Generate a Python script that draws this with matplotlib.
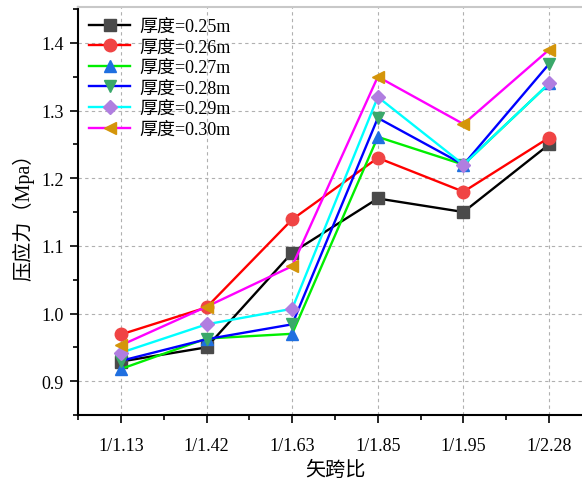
import numpy as np
import matplotlib
matplotlib.use('Agg')
from matplotlib import pyplot as plt
from matplotlib.ticker import MultipleLocator

plt.rcParams['font.family'] = ['Liberation Serif', 'Noto Sans CJK SC', 'DejaVu Sans']

# categories (矢跨比)
categories = ['1/1.13', '1/1.42', '1/1.63', '1/1.85', '1/1.95', '1/2.28']
thickness = ['0.25', '0.26', '0.27', '0.28', '0.29', '0.30']

# 压应力 values per thickness
s025 = [0.929, 0.950, 1.090, 1.170, 1.150, 1.250]
s026 = [0.969, 1.009, 1.139, 1.230, 1.180, 1.260]
s027 = [0.918, 0.963, 0.970, 1.261, 1.220, 1.340]
s028 = [0.930, 0.962, 0.984, 1.289, 1.220, 1.369]
s029 = [0.942, 0.984, 1.007, 1.320, 1.220, 1.340]
s030 = [0.953, 1.010, 1.070, 1.350, 1.280, 1.390]
series = [s025, s026, s027, s028, s029, s030]

line_colors = ['black', '#ff0000', '#00ee00', '#0000ff', '#00ffff', '#ff00ff']
marker_colors = ['#4a4a4a', '#f04444', '#1f6fe0', '#3aa86a', '#b07ee0', '#d4950a']
markers = ['s', 'o', '^', 'v', 'D', '<']
msizes = [8, 9, 9, 9, 7, 9]

fig = plt.figure(figsize=(5.82, 4.81), dpi=100)
ax = fig.add_axes([78/582, 1-416/481, 514/582, 408/481])

x = np.arange(len(categories))
for i, ys in enumerate(series):
    ax.plot(x, ys, color=line_colors[i], lw=1.7, marker=markers[i],
            markersize=msizes[i], markerfacecolor=marker_colors[i],
            markeredgecolor=marker_colors[i], label='厚度=' + thickness[i] + 'm')

ax.set_xlim(-0.5, 5.5)
ax.set_ylim(0.85, 1.453)
ax.set_xticks(x)
ax.set_xticklabels(categories)
ax.xaxis.set_minor_locator(MultipleLocator(0.5))
ax.yaxis.set_major_locator(MultipleLocator(0.1))
ax.yaxis.set_minor_locator(MultipleLocator(0.05))
ax.yaxis.set_major_formatter(matplotlib.ticker.FormatStrFormatter('%.1f'))
ax.tick_params(which='major', direction='out', length=6, width=1.2, labelsize=13, pad=4)
ax.tick_params(which='minor', direction='out', length=3.5, width=1.2)
ax.tick_params(axis='x', which='major', pad=10)

ax.grid(True, which='major', ls=(0, (3, 3)), color='#b0b0b0', lw=0.8)
ax.set_axisbelow(True)

ax.spines['left'].set_linewidth(1.5)
ax.spines['bottom'].set_linewidth(1.5)
ax.spines['top'].set_color('#c8c8c8')
ax.spines['top'].set_linewidth(1.5)
ax.spines['right'].set_visible(False)

ax.set_xlabel('矢跨比', fontsize=14.5)
ax.xaxis.set_label_coords(0.5, -0.112)
ax.set_ylabel('压应力（Mpa）', fontsize=14.5)
ax.yaxis.set_label_coords(-0.085, 0.5)

ax.legend(loc='upper left', frameon=False, fontsize=13, handlelength=2.3,
          borderaxespad=0.2, labelspacing=0.2, handletextpad=0.5)

fig.savefig('out.png', dpi=100)
